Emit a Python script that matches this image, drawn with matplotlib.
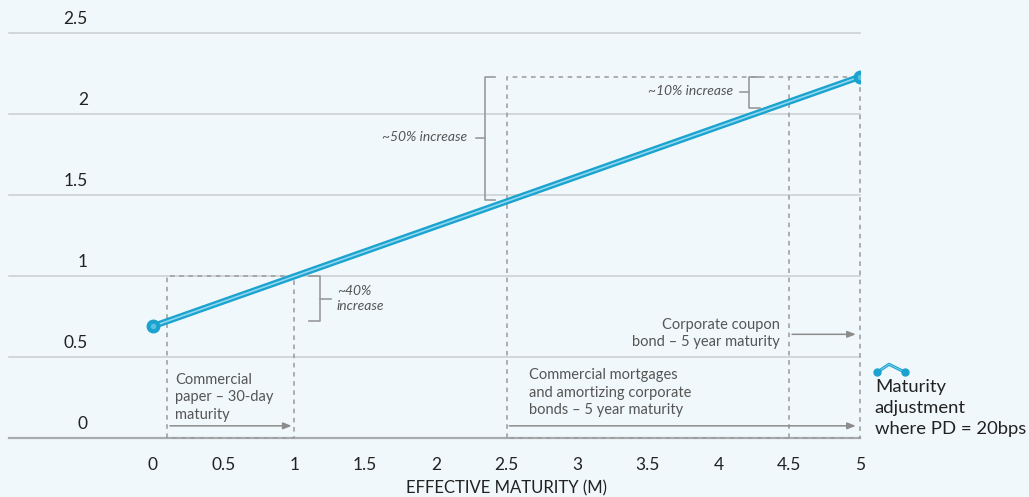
import matplotlib
matplotlib.use("Agg")
import matplotlib.pyplot as plt

plt.rcParams['font.family'] = ['Lato', 'DejaVu Sans']

# Data
maturity = [0, 5]
adjustment = [0.69, 2.23]
xticks = [0, 0.5, 1, 1.5, 2, 2.5, 3, 3.5, 4, 4.5, 5]
xtick_labels = ["0", "0.5", "1", "1.5", "2", "2.5", "3", "3.5", "4", "4.5", "5"]
yticks = [0, 0.5, 1, 1.5, 2, 2.5]
ytick_labels = ["0", "0.5", "1", "1.5", "2", "2.5"]

BG = "#F0F8FB"
BLUE = "#1AA3CF"
LIGHT = "#8FD6EE"
GRID = "#C9CDD0"
DASH = "#9A9A9A"
TXT = "#555555"
DARK = "#222222"

W, H = 1029, 497
fig = plt.figure(figsize=(W / 100, H / 100), dpi=100, facecolor=BG)
left_px, right_px, top_px, bot_px = 9, 860, 33, 438
ax = fig.add_axes([left_px / W, 1 - bot_px / H, (right_px - left_px) / W, (bot_px - top_px) / H])
ax.set_facecolor(BG)
ax.set_xlim((left_px - 153) / 141.4, 5)
ax.set_ylim(0, 2.5)
for s in ax.spines.values():
    s.set_visible(False)

# gridlines
for v in yticks:
    if v == 0:
        ax.axhline(v, color="#A8ACAF", lw=1.6, zorder=1, clip_on=False)
    else:
        ax.axhline(v, color=GRID, lw=1.1, zorder=1, clip_on=False)

# y labels above gridlines
ax.set_yticks([])
for v, lab in zip(yticks, ytick_labels):
    ax.text(-0.46, v + 0.04, lab, ha="right", va="bottom", fontsize=12.5, color=DARK)

# x ticks
ax.set_xticks(xticks)
ax.set_xticklabels(xtick_labels, fontsize=12.5, color=DARK)
ax.tick_params(axis="x", length=0, pad=14)
ax.set_xlabel("EFFECTIVE MATURITY (M)", fontsize=12, color=DARK, va="center")
ax.xaxis.set_label_coords((153 + 2.5 * 141.4 - left_px) / (right_px - left_px), -(488 - bot_px) / (bot_px - top_px))

# dashed boxes
dkw = dict(color=DASH, lw=1.1, ls=(0, (3, 3)), zorder=2, clip_on=False)
ax.plot([0.1, 0.1, 1, 1, 0.1], [0, 1, 1, 0, 0], **dkw)
ax.plot([2.5, 2.5, 5, 5, 2.5], [0, 2.23, 2.23, 0, 0], **dkw)
ax.plot([4.5, 4.5], [0, 2.23], **dkw)

# arrows
akw = dict(arrowstyle="-|>,head_length=0.5,head_width=0.2", color="#8C8C8C", lw=1.1)
ax.annotate("", xy=(1.0, 0.075), xytext=(0.1, 0.075), arrowprops=akw)
ax.annotate("", xy=(4.99, 0.075), xytext=(2.5, 0.075), arrowprops=akw)
ax.annotate("", xy=(4.99, 0.64), xytext=(4.5, 0.64), arrowprops=akw)

# main line
ax.plot(maturity, adjustment, color=BLUE, lw=4.5, solid_capstyle="round", zorder=4)
ax.plot(maturity, adjustment, color=LIGHT, lw=1.2, zorder=5)
ax.plot(maturity, adjustment, ls="none", marker="o", ms=9, mfc=BLUE, mec=BLUE, zorder=6)
ax.plot(maturity, adjustment, ls="none", marker="o", ms=4, mfc="#5BC0E2", mec="none", zorder=7)

# brackets
bkw = dict(color="#9A9A9A", lw=1.2, zorder=3, clip_on=False)
def bracket(xv, y0, y1, xin, xout, ymid):
    ax.plot([xin, xv, xv, xin], [y1, y1, y0, y0], **bkw)
    ax.plot([xv, xout], [ymid, ymid], **bkw)

bracket(1.182, 0.72, 1.0, 1.10, 1.26, 0.86)
ax.text(1.30, 0.86, "~40%\nincrease", ha="left", va="center", fontsize=10, style="italic", color=TXT, linespacing=1.35)
bracket(2.348, 1.47, 2.23, 2.42, 2.285, 1.85)
ax.text(2.22, 1.86, "~50% increase", ha="right", va="center", fontsize=10, style="italic", color=TXT)
bracket(4.215, 2.04, 2.23, 4.29, 4.15, 2.135)
ax.text(4.10, 2.14, "~10% increase", ha="right", va="center", fontsize=10, style="italic", color=TXT)

# text annotations
ax.text(0.155, 0.40, "Commercial\npaper – 30-day\nmaturity", ha="left", va="top", fontsize=10.5, color=TXT, linespacing=1.3)
ax.text(4.43, 0.74, "Corporate coupon\nbond – 5 year maturity", ha="right", va="top", fontsize=10.5, color=TXT, linespacing=1.3)
ax.text(2.66, 0.43, "Commercial mortgages\nand amortizing corporate\nbonds – 5 year maturity", ha="left", va="top", fontsize=10.5, color=TXT, linespacing=1.3)

# legend icon and text
lx = [5.12, 5.205, 5.32]
ly = [0.405, 0.455, 0.405]
ax.plot(lx, ly, color=BLUE, lw=2.2, clip_on=False, zorder=6)
ax.plot(lx, ly, color=LIGHT, lw=0.6, clip_on=False, zorder=7)
ax.plot([lx[0], lx[2]], [ly[0], ly[2]], ls="none", marker="o", ms=5, mfc=BLUE, mec=BLUE, clip_on=False, zorder=8)
ax.text(5.105, 0.365, "Maturity\nadjustment\nwhere PD = 20bps", ha="left", va="top", fontsize=13.3, color=DARK, linespacing=1.38, clip_on=False)

fig.savefig("out.png", dpi=100, facecolor=BG)
